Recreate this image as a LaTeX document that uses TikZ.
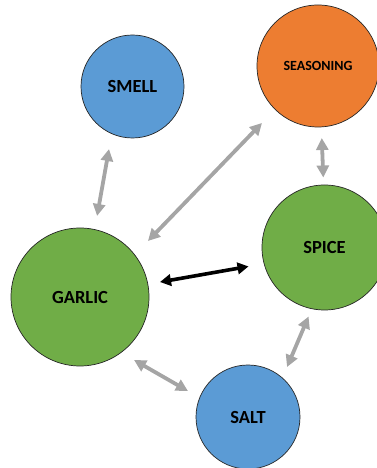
\documentclass[tikz,border=0pt]{standalone}
\usepackage{fontspec}
\setmainfont{Carlito}
\usetikzlibrary{arrows.meta,calc}
\definecolor{cblue}{HTML}{5B9BD5}
\definecolor{corange}{HTML}{ED7D31}
\definecolor{cgreen}{HTML}{70AD47}
\definecolor{cgray}{HTML}{A5A5A5}
\begin{document}
\begin{tikzpicture}[x=1pt,y=1pt,
  bubble/.style={circle,draw=black!85,line width=0.7pt,inner sep=0pt,
    font=\fontsize{18.5}{20}\selectfont\bfseries,text=black},
  link/.style={line width=3.8pt,draw=cgray,
    {Triangle[length=12pt,width=12pt]}-{Triangle[length=12pt,width=12pt]}},
  strong/.style={line width=3.6pt,draw=black,
    {Triangle[length=11pt,width=11.5pt]}-{Triangle[length=11pt,width=11.5pt]}}]
\useasboundingbox (0,0) rectangle (377,468);
\clip (0,0) rectangle (377,468);
\node[bubble,fill=cblue,minimum size=103pt] (smell) at (132.5,381.5) {SMELL};
\node[bubble,fill=corange,minimum size=122pt,font=\fontsize{14}{16}\selectfont\bfseries] (season) at (318,402) {SEASONING};
\node[bubble,fill=cgreen,minimum size=125pt] (spice) at (324.5,220.5) {SPICE};
\node[bubble,fill=cgreen,minimum size=138pt] (garlic) at (80,171) {GARLIC};
\node[bubble,fill=cblue,minimum size=104pt] (salt) at (248,51) {SALT};
\draw[link] ($(smell)+(249.4:66.8)$) -- ($(garlic)+(78.1:82.8)$);
\draw[link] ($(garlic)+(39.5:88.1)$) -- ($(season)+(225.5:79.9)$);
\draw[link] ($(season)+(273:72.1)$) -- ($(spice)+(91:70)$);
\draw[strong] ($(garlic)+(10.6:81.4)$) -- ($(spice)+(194:78.3)$);
\draw[link] ($(garlic)+(-49.4:83)$) -- ($(salt)+(156.6:65.4)$);
\draw[link] ($(salt)+(52:63.4)$) -- ($(spice)+(257:70.8)$);
\end{tikzpicture}
\end{document}
